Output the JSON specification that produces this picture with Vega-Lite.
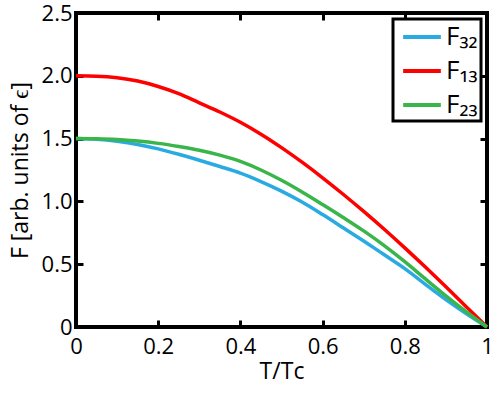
{
  "$schema": "https://vega.github.io/schema/vega-lite/v6.json",
  "width": 411,
  "height": 314,
  "autosize": {"type": "none"},
  "padding": {"left": 76, "top": 13, "right": 11, "bottom": 70},
  "background": "white",
  "config": {
    "font": "Open Sans",
    "view": {"stroke": "black", "strokeWidth": 4},
    "axis": {
      "domain": false,
      "grid": false,
      "ticks": true,
      "offset": -7,
      "zindex": 1,
      "tickColor": "black",
      "tickOpacity": 1,
      "tickWidth": 3,
      "tickSize": 7,
      "labelColor": "black",
      "labelFontSize": 22,
      "labelFont": "Open Sans",
      "titleFont": "Open Sans",
      "titleFontSize": 23,
      "titleFontWeight": "normal",
      "titleColor": "black",
      "labelFlush": false,
      "labelOverlap": false,
      "labelBound": false
    }
  },
  "data": {
    "values": [
      {"t": 0.0, "F": 1.5, "s": "F₃₂"},
      {"t": 0.05, "F": 1.494, "s": "F₃₂"},
      {"t": 0.1, "F": 1.478, "s": "F₃₂"},
      {"t": 0.15, "F": 1.453, "s": "F₃₂"},
      {"t": 0.2, "F": 1.418, "s": "F₃₂"},
      {"t": 0.25, "F": 1.375, "s": "F₃₂"},
      {"t": 0.3, "F": 1.328, "s": "F₃₂"},
      {"t": 0.35, "F": 1.278, "s": "F₃₂"},
      {"t": 0.4, "F": 1.225, "s": "F₃₂"},
      {"t": 0.45, "F": 1.158, "s": "F₃₂"},
      {"t": 0.5, "F": 1.082, "s": "F₃₂"},
      {"t": 0.55, "F": 0.995, "s": "F₃₂"},
      {"t": 0.6, "F": 0.895, "s": "F₃₂"},
      {"t": 0.65, "F": 0.79, "s": "F₃₂"},
      {"t": 0.7, "F": 0.684, "s": "F₃₂"},
      {"t": 0.75, "F": 0.575, "s": "F₃₂"},
      {"t": 0.8, "F": 0.465, "s": "F₃₂"},
      {"t": 0.85, "F": 0.34, "s": "F₃₂"},
      {"t": 0.9, "F": 0.218, "s": "F₃₂"},
      {"t": 0.95, "F": 0.105, "s": "F₃₂"},
      {"t": 1.0, "F": 0.0, "s": "F₃₂"},
      {"t": 0.0, "F": 2.0, "s": "F₁₃"},
      {"t": 0.05, "F": 1.997, "s": "F₁₃"},
      {"t": 0.1, "F": 1.985, "s": "F₁₃"},
      {"t": 0.15, "F": 1.958, "s": "F₁₃"},
      {"t": 0.2, "F": 1.915, "s": "F₁₃"},
      {"t": 0.25, "F": 1.858, "s": "F₁₃"},
      {"t": 0.3, "F": 1.785, "s": "F₁₃"},
      {"t": 0.35, "F": 1.712, "s": "F₁₃"},
      {"t": 0.4, "F": 1.63, "s": "F₁₃"},
      {"t": 0.45, "F": 1.535, "s": "F₁₃"},
      {"t": 0.5, "F": 1.428, "s": "F₁₃"},
      {"t": 0.55, "F": 1.312, "s": "F₁₃"},
      {"t": 0.6, "F": 1.188, "s": "F₁₃"},
      {"t": 0.65, "F": 1.057, "s": "F₁₃"},
      {"t": 0.7, "F": 0.92, "s": "F₁₃"},
      {"t": 0.75, "F": 0.778, "s": "F₁₃"},
      {"t": 0.8, "F": 0.63, "s": "F₁₃"},
      {"t": 0.85, "F": 0.477, "s": "F₁₃"},
      {"t": 0.9, "F": 0.32, "s": "F₁₃"},
      {"t": 0.95, "F": 0.16, "s": "F₁₃"},
      {"t": 1.0, "F": 0.0, "s": "F₁₃"},
      {"t": 0.0, "F": 1.5, "s": "F₂₃"},
      {"t": 0.05, "F": 1.498, "s": "F₂₃"},
      {"t": 0.1, "F": 1.492, "s": "F₂₃"},
      {"t": 0.15, "F": 1.48, "s": "F₂₃"},
      {"t": 0.2, "F": 1.462, "s": "F₂₃"},
      {"t": 0.25, "F": 1.437, "s": "F₂₃"},
      {"t": 0.3, "F": 1.407, "s": "F₂₃"},
      {"t": 0.35, "F": 1.368, "s": "F₂₃"},
      {"t": 0.4, "F": 1.318, "s": "F₂₃"},
      {"t": 0.45, "F": 1.25, "s": "F₂₃"},
      {"t": 0.5, "F": 1.168, "s": "F₂₃"},
      {"t": 0.55, "F": 1.075, "s": "F₂₃"},
      {"t": 0.6, "F": 0.975, "s": "F₂₃"},
      {"t": 0.65, "F": 0.872, "s": "F₂₃"},
      {"t": 0.7, "F": 0.765, "s": "F₂₃"},
      {"t": 0.75, "F": 0.648, "s": "F₂₃"},
      {"t": 0.8, "F": 0.52, "s": "F₂₃"},
      {"t": 0.85, "F": 0.383, "s": "F₂₃"},
      {"t": 0.9, "F": 0.248, "s": "F₂₃"},
      {"t": 0.95, "F": 0.12, "s": "F₂₃"},
      {"t": 1.0, "F": 0.0, "s": "F₂₃"}
    ]
  },
  "layer": [
    {
      "mark": {"type": "line", "strokeWidth": 3.5, "interpolate": "monotone"},
      "encoding": {
        "x": {
          "field": "t", "type": "quantitative",
          "scale": {"domain": [0, 1], "nice": false, "zero": false},
          "axis": {
            "orient": "bottom",
            "values": [0, 0.2, 0.4, 0.6, 0.8, 1],
            "labelExpr": "datum.value == 0 ? '0' : datum.value == 1 ? '1' : format(datum.value, '.1f')",
            "labelPadding": 9,
            "title": "T/Tc",
            "titlePadding": 3
          }
        },
        "y": {
          "field": "F", "type": "quantitative",
          "scale": {"domain": [0, 2.5], "nice": false, "zero": false},
          "axis": {
            "orient": "left",
            "values": [0, 0.5, 1, 1.5, 2, 2.5],
            "labelExpr": "datum.value == 0 ? '0' : format(datum.value, '.1f')",
            "labelPadding": 4,
            "title": "F [arb. units of ϵ]",
            "titlePadding": 9
          }
        },
        "color": {
          "field": "s", "type": "nominal",
          "scale": {"domain": ["F₃₂", "F₁₃", "F₂₃"], "range": ["#29ABE2", "#FF0000", "#3AB54A"]},
          "legend": {
            "title": null,
            "orient": "top-right",
            "offset": 6,
            "symbolType": "M-1.45,0H1.45",
            "symbolStrokeWidth": 4,
            "symbolSize": 676,
            "symbolOffset": 11,
            "labelFontSize": 26,
            "labelFont": "Open Sans",
            "labelColor": "black",
            "labelOffset": 9,
            "labelExpr": "datum.label + ' '",
            "padding": 3,
            "rowPadding": 6,
            "strokeColor": "black",
            "fillColor": "white",
            "encode": {"legend": {"update": {"strokeWidth": {"value": 3}}}}
          }
        }
      }
    },
    {
      "mark": {"type": "point", "opacity": 0},
      "encoding": {
        "x": {
          "field": "t", "type": "quantitative",
          "axis": {"orient": "top", "values": [0, 0.2, 0.4, 0.6, 0.8, 1], "labels": false, "title": null}
        },
        "y": {
          "field": "F", "type": "quantitative",
          "axis": {"orient": "right", "values": [0, 0.5, 1, 1.5, 2, 2.5], "labels": false, "title": null}
        }
      }
    }
  ],
  "resolve": {"axis": {"x": "independent", "y": "independent"}}
}
